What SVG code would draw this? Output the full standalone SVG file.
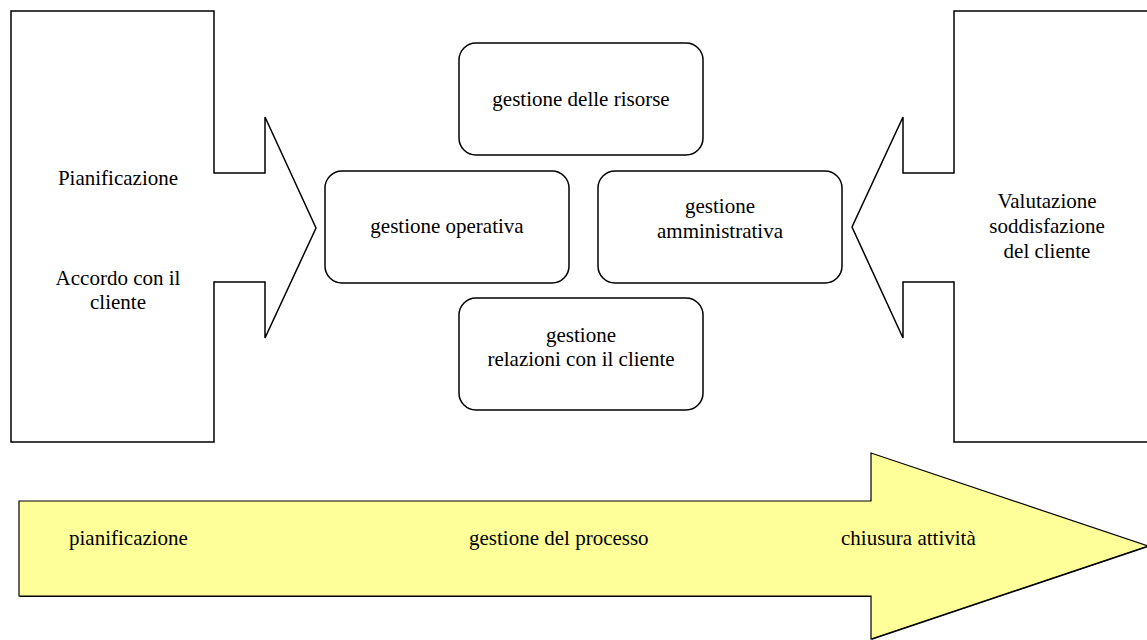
<svg xmlns="http://www.w3.org/2000/svg" width="1147" height="640" viewBox="0 0 1147 640">
<style>
.sh{fill:#fff;stroke:#000;stroke-width:1.5;stroke-linejoin:miter}
.bx{fill:#fff;stroke:#000;stroke-width:1.5}
text{font-family:'Liberation Serif','Times New Roman',serif;font-size:21px;fill:#000}
.c{text-anchor:middle}
</style>
<rect width="1147" height="640" fill="#fff"/>
<g id="left-input">
<path class="sh" d="M11,11 H214 V173 H265 V117 L316,228 L265,338 V282 H214 V442 H11 Z"/>
<text class="c" x="118" y="185">Pianificazione</text>
<text class="c" x="118" y="285">Accordo con il</text>
<text class="c" x="118" y="309">cliente</text>
</g>
<g id="right-input">
<path class="sh" d="M1152,11 H954 V173 H903 V117 L852,227 L903,338 V282 H954 V442 H1152 Z"/>
<text class="c" x="1047" y="208">Valutazione</text>
<text class="c" x="1047" y="233">soddisfazione</text>
<text class="c" x="1047" y="258">del cliente</text>
</g>
<g id="risorse">
<rect class="bx" x="459" y="43" width="244" height="112" rx="17"/>
<text class="c" x="581" y="106">gestione delle risorse</text>
</g>
<g id="operativa">
<rect class="bx" x="325" y="171" width="244" height="112" rx="17"/>
<text class="c" x="447" y="233">gestione operativa</text>
</g>
<g id="amministrativa">
<rect class="bx" x="598" y="171" width="244" height="112" rx="17"/>
<text class="c" x="720" y="213">gestione</text>
<text class="c" x="720" y="238">amministrativa</text>
</g>
<g id="relazioni">
<rect class="bx" x="459" y="298" width="244" height="112" rx="17"/>
<text class="c" x="581" y="342">gestione</text>
<text class="c" x="581" y="366">relazioni con il cliente</text>
</g>
<g id="process">
<path d="M19,501 H871 V453 L1148,546 L871,639 V596 H19 Z" fill="#000" transform="translate(0.6,1)"/>
<path d="M19,501 H871 V453 L1148,546 L871,639 V596 H19 Z" fill="#FFFF99" stroke="#000" stroke-width="1.2"/>
<text x="69" y="545">pianificazione</text>
<text x="469" y="545">gestione del processo</text>
<text x="841" y="545">chiusura attività</text>
</g>
<g id="connectors"></g>
</svg>
